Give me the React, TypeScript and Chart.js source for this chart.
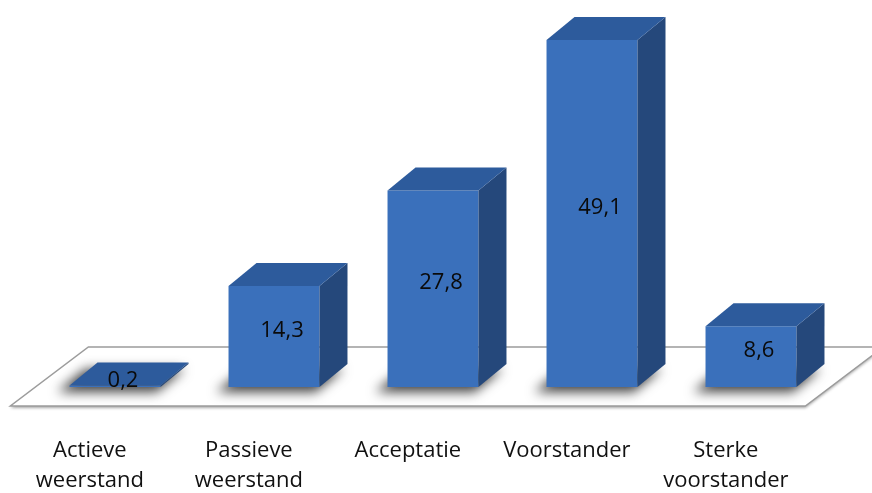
import React, { useEffect, useRef } from "react";
import { Chart, registerables } from "chart.js";

Chart.register(...registerables);

const categories: string[][] = [
  ["Actieve", "weerstand"],
  ["Passieve", "weerstand"],
  ["Acceptatie"],
  ["Voorstander"],
  ["Sterke", "voorstander"],
];
const values: number[] = [0.2, 14.3, 27.8, 49.1, 8.6];
const valueLabels: string[] = values.map((v) => v.toFixed(1).replace(".", ","));

const FRONT = "#3a70bb";
const SIDE = "#25487b";
const TOP = "#2d5b9c";
const DX = 28;
const DY = 23;
const FLOOR_FRONT = 19;
const FLOOR_BACK = 40;
const SLOPE = 78 / 59;
const FONT = '22px "Open Sans"';

const threeD = {
  id: "threeD",
  beforeDatasetsDraw(chart: any) {
    const ctx = chart.ctx as CanvasRenderingContext2D;
    const { left, right } = chart.chartArea;
    const base = chart.scales.y.getPixelForValue(0);
    // floor
    ctx.save();
    ctx.beginPath();
    ctx.moveTo(left - FLOOR_FRONT * SLOPE, base + FLOOR_FRONT);
    ctx.lineTo(right - FLOOR_FRONT * SLOPE, base + FLOOR_FRONT);
    ctx.lineTo(right + FLOOR_BACK * SLOPE, base - FLOOR_BACK);
    ctx.lineTo(left + FLOOR_BACK * SLOPE, base - FLOOR_BACK);
    ctx.closePath();
    ctx.shadowColor = "rgba(0,0,0,0.35)";
    ctx.shadowBlur = 3;
    ctx.shadowOffsetY = 2;
    ctx.fillStyle = "#ffffff";
    ctx.fill();
    ctx.shadowColor = "transparent";
    ctx.lineWidth = 1.5;
    ctx.strokeStyle = "#9c9c9c";
    ctx.stroke();
    ctx.restore();
    // bar shadows on floor
    const meta = chart.getDatasetMeta(0);
    meta.data.forEach((bar: any) => {
      const p = bar.getProps(["x", "width"], true);
      const x0 = p.x - p.width / 2;
      const x1 = p.x + p.width / 2;
      ctx.save();
      ctx.shadowColor = "rgba(0,0,0,0.75)";
      ctx.shadowBlur = 12;
      ctx.shadowOffsetX = -1000 - 8;
      ctx.shadowOffsetY = 3;
      ctx.fillStyle = "#000";
      ctx.beginPath();
      ctx.moveTo(1000 + x0 - 4, base + 2);
      ctx.lineTo(1000 + x1 + 4, base + 2);
      ctx.lineTo(1000 + x1 + DX + 4, base - DY + 2);
      ctx.lineTo(1000 + x0 + DX - 4, base - DY + 2);
      ctx.closePath();
      ctx.fill();
      ctx.restore();
    });
  },
  afterDatasetsDraw(chart: any) {
    const ctx = chart.ctx as CanvasRenderingContext2D;
    const base = chart.scales.y.getPixelForValue(0);
    const meta = chart.getDatasetMeta(0);
    meta.data.forEach((bar: any, i: number) => {
      const p = bar.getProps(["x", "y", "width"], true);
      const x0 = p.x - p.width / 2;
      const x1 = p.x + p.width / 2;
      const top = p.y;
      ctx.save();
      // side
      ctx.fillStyle = SIDE;
      ctx.beginPath();
      ctx.moveTo(x1, top);
      ctx.lineTo(x1 + DX, top - DY);
      ctx.lineTo(x1 + DX, base - DY);
      ctx.lineTo(x1, base);
      ctx.closePath();
      ctx.fill();
      // top
      ctx.fillStyle = TOP;
      ctx.beginPath();
      ctx.moveTo(x0, top);
      ctx.lineTo(x0 + DX, top - DY);
      ctx.lineTo(x1 + DX, top - DY);
      ctx.lineTo(x1, top);
      ctx.closePath();
      ctx.fill();
      // value label
      ctx.fillStyle = "#0a0a0a";
      ctx.font = FONT;
      ctx.textAlign = "center";
      ctx.textBaseline = "middle";
      ctx.fillText(valueLabels[i], p.x + 8, (top - DY * 0.5 + base) / 2);
      // category label
      ctx.fillStyle = "#111111";
      const cx = p.x - FLOOR_FRONT * SLOPE;
      categories[i].forEach((line, j) => {
        ctx.fillText(line, cx, base + 64 + j * 30);
      });
      ctx.restore();
    });
  },
};

export default function App() {
  const ref = useRef<HTMLCanvasElement | null>(null);
  useEffect(() => {
    if (!ref.current) return;
    const chart = new Chart(ref.current, {
      type: "bar",
      data: {
        labels: categories.map((c) => c.join(" ")),
        datasets: [
          {
            data: values,
            backgroundColor: FRONT,
            borderWidth: 0,
            barPercentage: 0.572,
            categoryPercentage: 1,
          },
        ],
      },
      options: {
        responsive: false,
        animation: false,
        devicePixelRatio: 1,
        layout: { padding: { left: 35.5, right: 41.5, top: 33.6, bottom: 106 } },
        plugins: { legend: { display: false }, tooltip: { enabled: false } },
        scales: {
          x: { display: false },
          y: { display: false, min: 0, max: 50 },
        },
      },
      plugins: [threeD],
    } as any);
    return () => chart.destroy();
  }, []);
  return (
    <div style={{ position: "fixed", left: 0, top: 0, width: 872, height: 493, background: "#fff" }}>
      <canvas ref={ref} width={872} height={493} style={{ width: 872, height: 493 }} />
    </div>
  );
}
